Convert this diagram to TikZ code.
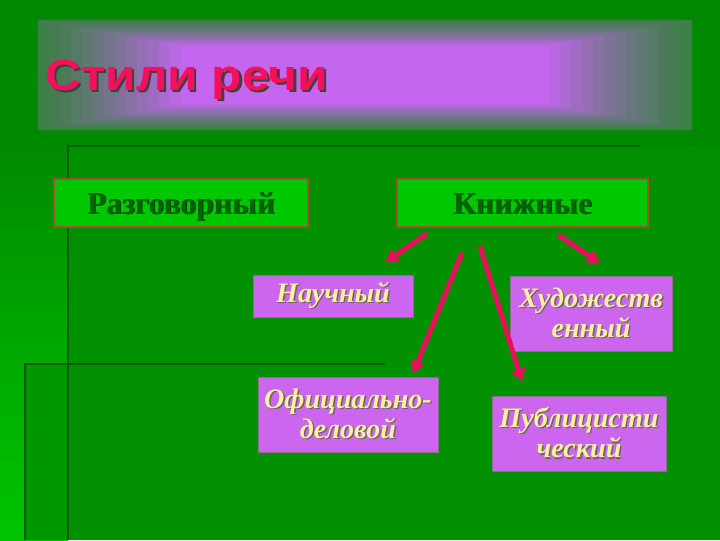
\documentclass[tikz,border=0pt]{standalone}
\usepackage{fontspec}
\setmainfont{Liberation Serif}
\newfontfamily\titlefont[FakeStretch=1.14]{Liberation Sans}
\usetikzlibrary{arrows.meta}
\definecolor{fonzel}{HTML}{008800}
\definecolor{fonniz}{HTML}{009000}
\definecolor{fonlev}{HTML}{00C400}
\definecolor{fonpolosa}{HTML}{009600}
\definecolor{linija}{HTML}{006000}
\definecolor{glowin}{HTML}{C466F0}
\definecolor{glowedge}{HTML}{3E7E48}
\definecolor{zagolcol}{HTML}{F5105C}
\definecolor{knopkafill}{HTML}{00C800}
\definecolor{knopkaram}{HTML}{A0522D}
\definecolor{knopkatxt}{HTML}{006400}
\definecolor{plashkafill}{HTML}{CC66EE}
\definecolor{plashkaram}{HTML}{8A7090}
\definecolor{plashkatxt}{HTML}{FFF0A0}
\definecolor{strelkacol}{HTML}{E8105A}
\newcommand{\shd}[3][1pt]{\makebox[0pt][l]{\hspace{#1}\raisebox{-#1}{\color{#2}#3}}#3}
\tikzset{
  knopka/.style={draw=knopkaram, line width=0.8pt, fill=knopkafill, text=knopkatxt,
    font=\fontsize{22.5}{25}\selectfont\bfseries, minimum height=1.2cm, inner sep=0pt,
    text height=0.6cm, text depth=0.05cm},
  plashka/.style={draw=plashkaram, line width=0.6pt, fill=plashkafill, text=plashkatxt,
    font=\fontsize{20}{21.5}\selectfont\bfseries\itshape, align=center, inner sep=0pt},
  strelka/.style={draw=strelkacol, line width=3.6pt, -{Triangle[length=9pt,width=10pt]}}
}
\begin{document}
\begin{tikzpicture}[x=0.025cm, y=-0.025cm]
        \useasboundingbox (0,0) rectangle (720,540);
        \fill[fonzel] (0,0) rectangle (720,540);
        \fill[fonniz] (68,146) rectangle (720,540);
        \shade[top color=fonzel, bottom color=fonlev] (0,130) rectangle (68,540);
        \fill[fonpolosa] (25,364) rectangle (68,540);
        \draw[linija, line width=2pt] (640,146) -- (68,146) -- (68,540);
        \draw[linija, line width=2pt] (385,364) -- (25,364) -- (25,540);
        \foreach \k in {0,...,16} {
            \pgfmathsetmacro\mix{min(100,100*(\k/13)^1.2)}
            \fill[glowin!\mix!glowedge] (38+\k*11,20+\k*2) rectangle (692-\k*11,130-\k*2);
        }
        \node[anchor=base west, inner sep=0pt, text=zagolcol, font=\titlefont\fontsize{31}{34}\selectfont\bfseries] (zagol) at (45,90) {\shd[1.6pt]{black!75}{Стили речи}};
        \node[knopka, minimum width=6.35cm] (razg) at (181,203) {\shd[0.6pt]{knopkatxt!60!black}{Разговорный}};
        \node[knopka, minimum width=6.275cm] (knizh) at (522.5,203) {\shd[0.6pt]{knopkatxt!60!black}{Книжные}};
        \node[plashka, minimum width=4cm, minimum height=1.05cm] (nauch) at (333,296) {\shd{black!60}{Научный}};
        \node[plashka, minimum width=4.05cm, minimum height=1.875cm] (khud) at (591,313.5) {\shd{black!60}{Художеств}\\\shd{black!60}{енный}};
        \node[plashka, minimum width=4.5cm, minimum height=1.875cm] (ofic) at (348,414.5) {\shd{black!60}{Официально-}\\\shd{black!60}{деловой}};
        \node[plashka, minimum width=4.35cm, minimum height=1.875cm] (publ) at (579,433.5) {\shd{black!60}{Публицисти}\\\shd{black!60}{ческий}};
        \coordinate (s1) at ([shift={(-95.5,6)}]knizh.south);
        \coordinate (s2) at ([shift={(-60.5,25)}]knizh.south);
        \coordinate (s3) at ([shift={(-42.5,19)}]knizh.south);
        \coordinate (s4) at ([shift={(35.5,7)}]knizh.south);
        \coordinate (e1) at ([shift={(52,-12)}]nauch.north);
        \coordinate (e2) at ([shift={(65,-3)}]ofic.north);
        \coordinate (e3) at ([shift={(-57,-14)}]publ.north);
        \coordinate (e4) at ([shift={(9,-12)}]khud.north);
        \draw[strelka] (s1) -- (e1);
        \draw[strelka] (s2) -- (e2);
        \draw[strelka] (s3) -- (e3);
        \draw[strelka] (s4) -- (e4);
    \end{tikzpicture}
\end{document}
